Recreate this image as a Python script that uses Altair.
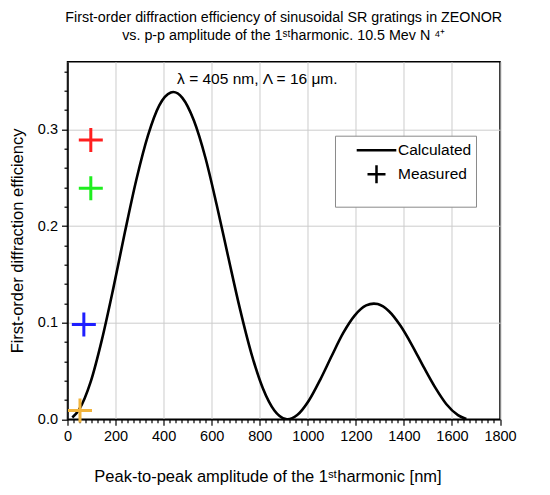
import altair as alt
import pandas as pd

# Calculated curve
curve_x = [20, 48, 96, 143, 191, 239, 287, 335, 382, 430, 440, 478, 526, 574,
           621, 669, 717, 765, 813, 861, 909, 916, 956, 1004, 1052, 1100, 1147,
           1195, 1243, 1275, 1291, 1338, 1386, 1434, 1482, 1530, 1577, 1625, 1660]
curve_y = [0.0018, 0.0099, 0.0384, 0.0822, 0.1360, 0.1937, 0.2483, 0.2937,
           0.3248, 0.3381, 0.3386, 0.3326, 0.3091, 0.2706, 0.2217, 0.1679,
           0.1150, 0.0683, 0.0321, 0.0091, 0.0002, 0.0, 0.0044, 0.0192, 0.0411,
           0.0658, 0.0891, 0.1073, 0.1178, 0.1197, 0.1192, 0.1118, 0.0967,
           0.0766, 0.0542, 0.0330, 0.0156, 0.0043, 0.0004]

# Measured points
meas_x = [97, 97, 68, 52]
meas_y = [0.289, 0.239, 0.098, 0.009]
meas_color = ["#ff1f1f", "#1fee1f", "#1f1fff", "#f2b43c"]

series_names = ["Calculated", "Measured"]

note_x = [790]
note_y = [0.347]
note_text = ["\u03bb = 405 nm, \u039b = 16 \u03bcm."]

title_lines = [
    "First-order diffraction efficiency of sinusoidal SR gratings in ZEONOR",
    "vs. p-p amplitude of the 1\u02e2\u1d57harmonic. 10.5 Mev N \u2074\u207a",
]
x_title = "Peak-to-peak amplitude of the 1\u02e2\u1d57harmonic [nm]"
y_title = "First-order diffraction efficiency"

FONT = "Liberation Sans"
PLUS = "M-1,0H1M0,-1V1"
LINE = "M-2.2,0H2.2"

curve_df = pd.DataFrame({"x": curve_x, "y": curve_y})
meas_df = pd.DataFrame({"x": meas_x, "y": meas_y, "c": meas_color,
                        "series": ["Measured"] * len(meas_x)})
note_df = pd.DataFrame({"x": note_x, "y": note_y, "t": note_text})

x_major = "datum.value % 200 === 0"
y_major = "abs(datum.value*10 - round(datum.value*10)) < 0.001"

x_axis = alt.Axis(
    values=list(range(0, 1801, 25)),
    tickCount=200,
    format="d",
    labelExpr=f"{x_major} ? datum.label : ''",
    labelOverlap=False,
    labelFlush=False,
    tickSize={"condition": {"test": x_major, "value": 6}, "value": 3.5},
    gridOpacity={"condition": {"test": x_major, "value": 1}, "value": 0},
    grid=True,
    labelPadding=4,
    titlePadding=26,
    titleX=200,
    titleAlign="center",
)
y_axis = alt.Axis(
    values=[round(i * 0.02, 2) for i in range(19)],
    tickCount=200,
    labelExpr=f"{y_major} ? format(datum.value, '.1f') : ''",
    labelOverlap=False,
    labelFlush=False,
    tickSize={"condition": {"test": y_major, "value": 6}, "value": 3.5},
    gridOpacity={"condition": {"test": y_major, "value": 1}, "value": 0},
    grid=True,
    labelPadding=4,
    titlePadding=12,
)

xs = alt.Scale(domain=[0, 1800], nice=False, zero=False)
ys = alt.Scale(domain=[0, 0.37], nice=False, zero=False)

curve = alt.Chart(curve_df).mark_line(
    color="black", strokeWidth=2.6, interpolate="monotone", clip=True
).encode(
    x=alt.X("x:Q", scale=xs, axis=x_axis, title=x_title),
    y=alt.Y("y:Q", scale=ys, axis=y_axis, title=y_title),
)

leg = alt.Legend(
    title="\u00a0", titleOrient="bottom", titleFontSize=14, titlePadding=0,
    orient="none", legendX=267.5, legendY=74,
    strokeColor="#8a8a8a", fillColor="white", padding=4,
    symbolOffset=27, labelOffset=11, rowPadding=1,
    symbolSize=324,
    labelFont=FONT, labelFontSize=15.5, labelColor="black",
    symbolStrokeColor="black", symbolFillColor="transparent",
    symbolStrokeWidth=2.5,
)

points = alt.Chart(meas_df).mark_point(
    filled=False, strokeWidth=3, opacity=1, size=576
).encode(
    x=alt.X("x:Q", scale=xs),
    y=alt.Y("y:Q", scale=ys),
    stroke=alt.Stroke("c:N", scale=None),
    shape=alt.Shape("series:N", scale=alt.Scale(domain=series_names, range=[LINE, PLUS]), legend=leg),
)

note = alt.Chart(note_df).mark_text(
    font=FONT, fontSize=15.5, color="black", align="center", baseline="alphabetic"
).encode(
    x=alt.X("x:Q", scale=xs),
    y=alt.Y("y:Q", scale=ys),
    text="t:N",
)

chart = alt.layer(curve, points, note).properties(
    width=432.5,
    height=357.6,
    autosize=alt.AutoSizeParams(type="none"),
    padding={"left": 59.5, "top": 53.7, "right": 40, "bottom": 75},
    title=alt.TitleParams(
        text=title_lines, font=FONT, fontSize=14.3, fontWeight="normal",
        color="black", anchor="middle", frame="group", lineHeight=18, offset=18,
    ),
).configure_view(
    stroke="black", strokeWidth=1.5
).configure_axis(
    labelFont=FONT, labelFontSize=14.5, labelColor="black",
    titleFont=FONT, titleFontSize=16.5, titleFontWeight="normal", titleColor="black",
    domainColor="black", domainWidth=1.5, tickColor="black", tickWidth=1.2,
    gridColor="#cccccc", gridWidth=1,
)

chart.save("out.html", embed_options={"renderer": "svg", "actions": False})
